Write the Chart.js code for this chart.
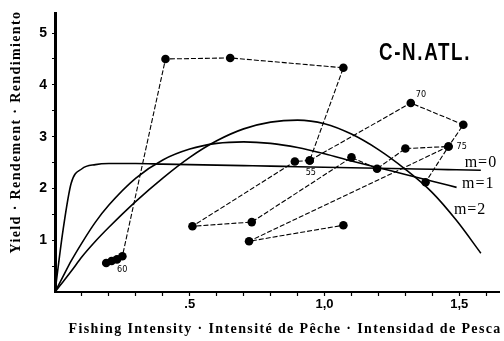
<!DOCTYPE html>
<html><head><meta charset="utf-8">
<script src="https://cdn.jsdelivr.net/npm/chart.js@4"></script>
<style>html,body{margin:0;padding:0;background:#fff}#wrap{width:504px;height:341px}</style>
</head><body><div id="wrap"><canvas id="c" width="504" height="341"></canvas></div>
<script>
// Observed yield against fishing intensity; null entries break the polyline
const intensity = [0.19, 0.21, 0.23, 0.25, 0.41, 0.65, 1.07, 0.945, 1.32, 1.515, 1.46, 1.375, null,
                   0.945, 0.89, 0.51, 0.73, 1.10, 1.195, 1.30, 1.46, 0.72, 1.07];
const yieldObs  = [0.56, 0.60, 0.63, 0.69, 4.50, 4.52, 4.33, 2.54, 3.65, 3.23, 2.81, 2.12, null,
                   2.54, 2.52, 1.27, 1.35, 2.60, 2.38, 2.77, 2.81, 0.98, 1.29];

// Fitted production curves
const curveX  = [0, 0.03, 0.06, 0.1, 0.15, 0.2, 0.3, 0.4, 0.5, 0.6, 0.7, 0.8, 0.9, 1.0, 1.1, 1.2, 1.3, 1.4, 1.49, 1.58];
const curveM0 = [0, 1.2, 2.1, 2.38, 2.46, 2.48, 2.48, 2.47, 2.46, 2.45, 2.44, 2.43, 2.42, 2.41, 2.40, 2.39, 2.38, 2.37, 2.36, 2.35];
const curveM1 = [0, 0.3, 0.6, 0.95, 1.35, 1.68, 2.2, 2.55, 2.76, 2.87, 2.9, 2.87, 2.79, 2.67, 2.53, 2.4, 2.27, 2.14, 2.02, null];
const curveM2 = [0, 0.2, 0.4, 0.68, 0.98, 1.25, 1.75, 2.2, 2.6, 2.92, 3.15, 3.28, 3.32, 3.25, 3.05, 2.75, 2.37, 1.92, 1.38, 0.75];

// Year annotations: [label, index into the observed series]
const yearLabels = [["55", 7], ["60", 2], ["70", 8], ["75", 10]];
const curveLabels = ["m=0", "m=1", "m=2"];
const xTicks = [0.1, 0.2, 0.3, 0.4, 0.5, 0.6, 0.7, 0.8, 0.9, 1.0, 1.1, 1.2, 1.3, 1.4, 1.5, 1.6];
const xTickText = {"0.5": ".5", "1": "1,0", "1.5": "1,5"};
const yTicks = [0.5, 1, 1.5, 2, 2.5, 3, 3.5, 4, 4.5, 5];

const toPts = (xs, ys) => xs.map((x, i) => (x === null || ys[i] === null ? {x: null, y: null} : {x, y: ys[i]}));

// text stretched to a given width through letter spacing
function fitText(ctx, text, cx, cy, width) {
  ctx.letterSpacing = '0px';
  const w = ctx.measureText(text).width;
  const sp = Math.max(0, (width - w) / text.length);
  ctx.letterSpacing = sp.toFixed(2) + 'px';
  ctx.textAlign = 'left';
  ctx.fillText(text, cx - width / 2, cy);
  ctx.letterSpacing = '0px';
}

const annot = {
  id: 'annot',
  afterDatasetsDraw(chart) {
    const {ctx, scales: {x, y}} = chart;
    ctx.save();
    ctx.fillStyle = '#000';
    ctx.font = '9px "Liberation Sans Narrow", "DejaVu Sans Condensed", sans-serif';
    ctx.textAlign = 'left';
    ctx.textBaseline = 'middle';
    const offs = {"55": [-4, 12], "60": [0, 10], "70": [5, -8], "75": [8, 0]};
    yearLabels.forEach(([t, i]) => {
      const o = offs[t];
      ctx.fillText(t, x.getPixelForValue(intensity[i]) + o[0], y.getPixelForValue(yieldObs[i]) + o[1]);
    });
    // curve names
    ctx.font = '16px "Liberation Serif", serif';
    ctx.letterSpacing = '1px';
    const cl = [[1.52, 2.50], [1.51, 2.08], [1.48, 1.58]];
    curveLabels.forEach((t, i) => ctx.fillText(t, x.getPixelForValue(cl[i][0]), y.getPixelForValue(cl[i][1])));
    ctx.letterSpacing = '0px';
    // stock area title, condensed
    ctx.save();
    ctx.font = 'bold 24px "Liberation Sans Narrow", sans-serif';
    ctx.textBaseline = 'alphabetic';
    ctx.translate(425, 60);
    ctx.scale(0.78, 1);
    fitText(ctx, 'C-N.ATL.', 0, 0, 92 / 0.78);
    ctx.restore();
    // axis titles
    ctx.font = 'bold 14px "Liberation Serif", serif';
    ctx.textBaseline = 'middle';
    fitText(ctx, 'Fishing Intensity · Intensité de Pêche · Intensidad de Pesca', 285, 329, 433);
    ctx.translate(16, 132);
    ctx.rotate(-Math.PI / 2);
    fitText(ctx, 'Yield · Rendement · Rendimiento', 0, 0, 243);
    ctx.restore();
  }
};

const curveDs = (ys) => ({
  data: toPts(curveX, ys), showLine: true, borderColor: '#000', borderWidth: 1.6,
  pointRadius: 0, tension: 0.4, cubicInterpolationMode: 'monotone', fill: false, spanGaps: false
});

new Chart(document.getElementById('c'), {
  type: 'scatter',
  data: {
    datasets: [
      {
        data: toPts(intensity, yieldObs), showLine: true, spanGaps: false,
        borderColor: '#000', borderWidth: 1.1, borderDash: [5, 2],
        pointRadius: 4.3, pointBackgroundColor: '#000', pointBorderColor: '#000', pointBorderWidth: 0
      },
      curveDs(curveM0), curveDs(curveM1), curveDs(curveM2)
    ]
  },
  options: {
    responsive: false, animation: false,
    layout: {padding: {top: 12, right: 0, left: 0, bottom: 0}},
    plugins: {legend: {display: false}, tooltip: {enabled: false}},
    scales: {
      x: {
        type: 'linear', min: 0, max: 1.65,
        afterFit: s => { s.height = 49; },
        afterBuildTicks: s => { s.ticks = xTicks.map(v => ({value: v})); },
        ticks: {
          autoSkip: false,
          callback: (v) => xTickText[String(v)] || '',
          color: '#000', font: {family: '"Liberation Sans Narrow", sans-serif', weight: 'bold', size: 13},
          padding: 1, maxRotation: 0
        },
        grid: {drawOnChartArea: false, tickLength: 4, color: '#000', tickWidth: 1.2},
        border: {color: '#000', width: 2}
      },
      y: {
        type: 'linear', min: 0, max: 5.38,
        afterFit: s => { s.width = 55; },
        afterBuildTicks: s => { s.ticks = yTicks.map(v => ({value: v})); },
        ticks: {
          autoSkip: false,
          callback: (v) => (Number.isInteger(v) ? String(v) : ''),
          color: '#000', font: {family: '"Liberation Sans Narrow", sans-serif', weight: 'bold', size: 14},
          padding: 5
        },
        grid: {drawOnChartArea: false, tickLength: 3, color: '#000', tickWidth: 1.2},
        border: {color: '#000', width: 3}
      }
    }
  },
  plugins: [annot]
});
</script></body></html>
